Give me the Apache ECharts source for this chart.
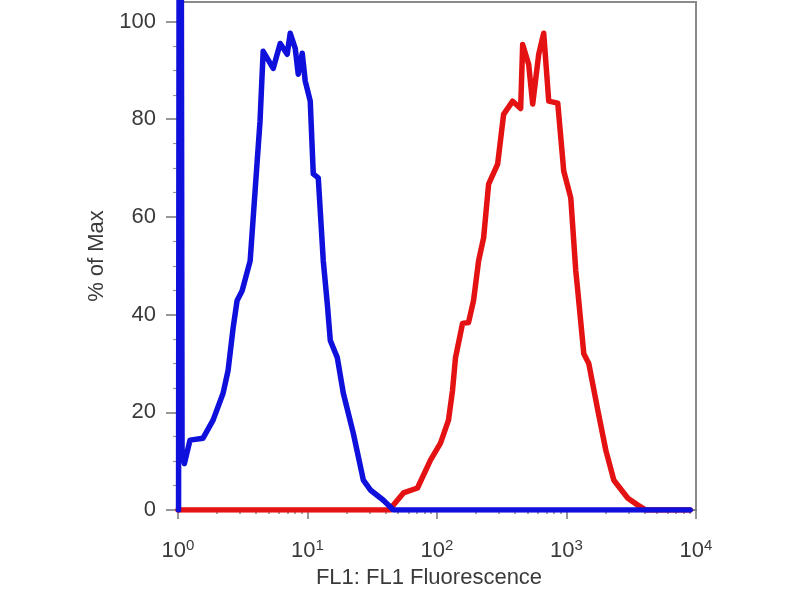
<!DOCTYPE html>
<html>
<head>
<meta charset="utf-8">
<script src="https://cdn.jsdelivr.net/npm/echarts@6/dist/echarts.min.js"></script>
<style>
  html, body { margin: 0; padding: 0; background: #fff; }
  #chart { width: 800px; height: 600px; }
</style>
</head>
<body>
<div id="chart"></div>
<script>
// histogram traces (x = FL1 intensity, y = % of max)
var blueX = [1.01, 1.035, 1.075, 1.12, 1.238, 1.561, 1.866, 2.229, 2.437, 2.665, 2.861,
  3.128, 3.607, 4.087, 4.30, 4.546, 5.433, 6.154, 6.971, 7.355, 8.040,
  8.481, 9.106, 9.607, 10.50, 11.08, 12.11, 13.24, 14.22, 15.00, 16.99,
  18.91, 22.59, 27.00, 30.59, 38.56, 46.07, 9000];
var blueY = [0, 300, 12.0, 9.5, 14.3, 14.7, 18.4, 23.9, 28.6, 37.3, 42.9,
  44.9, 51.0, 71.4, 79.6, 93.9, 90.4, 95.5, 93.3, 97.6, 94.5,
  89.2, 93.5, 87.8, 83.7, 68.8, 68.0, 51.0, 42.2, 34.7, 31.2,
  23.9, 15.7, 6.1, 4.1, 2.0, 0, 0];

var redX = [1, 43.67, 46.07, 55.06, 70.68, 89.06, 106.4, 122.7, 131.8, 139.0,
  157.5, 175.3, 191.6, 209.5, 229.0, 250.3, 293.9, 326.9, 383.8, 442.6,
  458.7, 510.5, 548.1, 610.1, 666.9, 729.2, 855.9, 952.1, 1079, 1179,
  1222, 1360, 1486, 1745, 2013, 2321, 2978, 3558, 4100, 9000];
var redY = [0, 0, 1.0, 3.5, 4.5, 10.2, 13.7, 18.4, 24.5, 31.2,
  38.2, 38.4, 42.9, 51.0, 55.7, 66.7, 70.8, 81.0, 83.7, 82.2,
  95.3, 91.2, 83.1, 93.3, 97.6, 83.7, 83.3, 69.4, 63.9, 49.0,
  44.9, 32.0, 30.0, 20.4, 12.2, 6.1, 2.4, 1.0, 0, 0];

var yTicks = [0, 20, 40, 60, 80, 100];
var xTitle = "FL1: FL1 Fluorescence";
var yTitle = "% of Max";

function zip(xs, ys) {
  return xs.map(function (x, i) { return [x, ys[i]]; });
}

var font = "'Liberation Sans', Arial, Helvetica, sans-serif";
var textColor = "#3a3a3a";

var chart = echarts.init(document.getElementById("chart"), null, { renderer: "canvas" });
chart.setOption({
  animation: false,
  grid: {
    left: 178, right: 104, top: 2, bottom: 90,
    show: true, borderColor: "#8a8a8a", borderWidth: 2
  },
  xAxis: {
    type: "log",
    logBase: 10,
    min: 1,
    max: 10000,
    name: xTitle,
    nameLocation: "middle",
    nameGap: 56,
    nameTextStyle: { fontFamily: font, fontSize: 22, color: textColor, padding: [0, 16, 0, 0] },
    axisLine: { show: true, lineStyle: { color: "#777", width: 1.5 } },
    axisTick: { show: true, length: 9, lineStyle: { color: "#777", width: 1.5 } },
    minorTick: { show: true, splitNumber: 9, length: 4, lineStyle: { color: "#888", width: 1.5 } },
    splitLine: { show: false },
    axisLabel: {
      margin: 28,
      formatter: function (v) {
        return "{b|10}{s|" + Math.round(Math.log10(v)) + "}";
      },
      rich: {
        b: { fontFamily: font, fontSize: 22, color: textColor, lineHeight: 26 },
        s: { fontFamily: font, fontSize: 15, color: textColor, verticalAlign: "top", lineHeight: 15 }
      }
    }
  },
  yAxis: {
    type: "value",
    min: 0,
    max: 104,
    interval: 20,
    name: yTitle,
    nameLocation: "middle",
    nameRotate: 90,
    nameGap: 70,
    nameTextStyle: { fontFamily: font, fontSize: 22, color: textColor },
    axisLine: { show: true, lineStyle: { color: "#777", width: 1.5 } },
    axisTick: { show: true, length: 12, customValues: yTicks, lineStyle: { color: "#777", width: 1.5 } },
    minorTick: { show: true, splitNumber: 4, length: 5, lineStyle: { color: "#999", width: 1.2 } },
    splitLine: { show: false },
    axisLabel: {
      margin: 22,
      customValues: yTicks,
      fontFamily: font,
      fontSize: 22,
      color: textColor
    }
  },
  series: [
    {
      name: "red",
      type: "line",
      data: zip(redX, redY),
      symbol: "none",
      lineStyle: { color: "#e41212", width: 5.5, cap: "round", join: "round" }
    },
    {
      name: "blue",
      type: "line",
      data: zip(blueX, blueY),
      symbol: "none",
      lineStyle: { color: "#1010dc", width: 5.5, cap: "round", join: "round" }
    }
  ]
});
</script>
</body>
</html>
